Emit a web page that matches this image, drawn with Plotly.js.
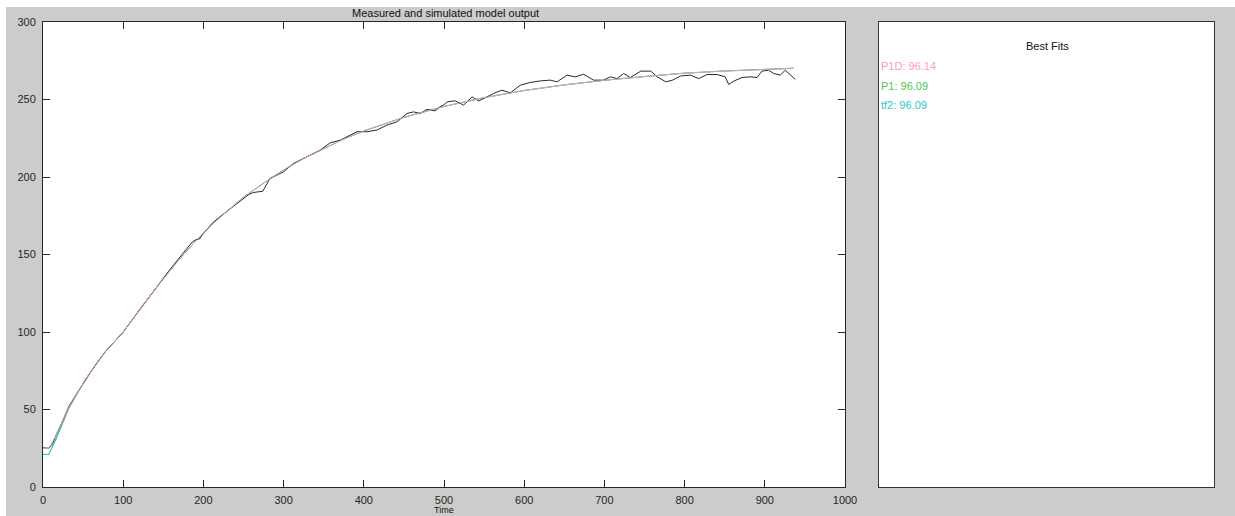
<!DOCTYPE html>
<html>
<head>
<meta charset="utf-8">
<script src="https://cdn.plot.ly/plotly-3.0.1.min.js"></script>
<style>html,body{margin:0;padding:0;background:#fff;}#chart{width:1235px;height:516px;}</style>
</head>
<body>
<div id="chart"></div>
<script>
// Measured output (black)
const measT = [0,4,7.5,12,15.7,24,32.4,43,53.2,65,78,89,98.9,110,123.8,135,144.6,157,169.6,180,186,190.3,195,200,211,221,231.9,240,248.5,256,262,268,274,283,300,312.5,329,345.8,358,370.7,383,391.5,404,416.5,429,441.4,453.9,462,470.4,478.8,489,495,499.5,504,514,524.4,535,543,551.5,561.8,572.3,582.7,595,607.5,620,632.6,641,653.4,663.8,674,686.5,699,707.4,715.7,724,732.4,745.4,757.9,766,776.6,785,795,807.4,817.5,828,840.5,850.7,855,861,871.6,882,890.3,896.5,904.7,911,919.3,925.5,931.8,938];
const measY = [25.3,25.2,25,28,32.8,42,52.1,61,69.3,78.5,87.5,94,99.3,107,116.5,124.5,131.5,139.5,147.6,154,158,159.5,160,163.5,170.2,174.5,178.8,182,185.2,188.5,190,190.3,190.8,199,203.4,208.8,213,217.4,222,223.8,227,229.2,229.2,230.3,233.5,235.6,241,242,241,243.6,242.7,245.3,246.4,248.5,249.1,246.4,251.7,249.1,251.1,253.9,256,254.3,259.2,261,262,262.5,261.4,265.7,264.6,266.3,262.5,262.5,264.6,263.5,266.8,264.2,268.3,268.3,264.6,261.4,262.5,265.2,265.7,263.5,266.1,266.1,264.6,259.7,261.8,264.2,264.6,264.2,268.3,268.9,266.8,265.7,268.9,265.7,263];

// Simulated: P1D (pink)
const p1dT = [0,7,15,32,53,78,100,124,145,170,190,211,232,250,275,300,325,350,375,400,425,450,475,500,550,600,650,700,750,800,850,900,936];
const p1dY = [25,25,32,51,69.5,87.5,100,117,131,147,158.5,169.5,179,187,196,204.5,212,218.5,224.5,229.7,234.3,238.5,242,245.5,251.2,255.8,259.4,262.4,264.8,267,268.3,269.4,270];

// Simulated: P1 (green) and tf2 (cyan)
const p1T = [0,7,15,32,53,78,100,124,145,170,190,211,232,250,275,300,325,350,375,400,425,450,475,500,550,600,650,700,750,800,850,900,936];
const p1Y = [21,21,29.5,50.5,69.5,87.5,100,117,131,147,158.5,169.5,179,187,196,204.5,212,218.5,224.5,229.7,234.3,238.5,242,245.5,251.2,255.8,259.4,262.4,264.8,267,268.4,269.5,270.2];
const tf2T = [0,7,15,32,53,78,100,124,145,170,190,211,232,250,275,300,325,350,375,400,425,450,475,500,550,600,650,700,750,800,850,900,936];
const tf2Y = [21,21,29.5,50.5,69.5,87.5,100,117,131,147,158.5,169.5,179,187,196,204.5,212,218.5,224.5,229.7,234.3,238.5,242,245.5,251.2,255.8,259.4,262.4,264.8,267,268.4,269.5,270.2];

const xTicks = [0,100,200,300,400,500,600,700,800,900,1000];
const yTicks = [0,50,100,150,200,250,300];
const fitNames = ['P1D: 96.14','P1: 96.09','tf2: 96.09'];

const PINK = '#ff99bf', GREEN = '#4cc64c', CYAN = '#1fc9cf';
const fitColors = [PINK, GREEN, CYAN];

// pixel -> paper helpers (plot area: x 43..1214, y 22..487)
const L = 43, R = 21, T = 22, B = 29, W = 1235, H = 516;
const PW = W - L - R, PH = H - T - B;
const px = v => (v - L) / PW;
const py = v => (H - B - v) / PH;

const font = {family: 'Liberation Sans, Arial, sans-serif', size: 11, color: '#262626'};

const traces = [
  {x: p1T, y: p1Y, type: 'scatter', mode: 'lines', line: {color: GREEN, width: 1}, xaxis: 'x', yaxis: 'y'},
  {x: tf2T, y: tf2Y, type: 'scatter', mode: 'lines', line: {color: CYAN, width: 1}, xaxis: 'x', yaxis: 'y'},
  {x: measT, y: measY, type: 'scatter', mode: 'lines', line: {color: '#2a2a2a', width: 1}, xaxis: 'x', yaxis: 'y'},
  {x: p1dT, y: p1dY, type: 'scatter', mode: 'lines', line: {color: PINK, width: 1}, xaxis: 'x', yaxis: 'y', opacity: 0.9}
];

const annotations = [
  {text: 'Measured and simulated model output', xref: 'paper', yref: 'paper', x: px(445), y: py(13), showarrow: false, xanchor: 'center', yanchor: 'middle', font: {family: font.family, size: 11, color: '#111'}},
  {text: 'Time', xref: 'paper', yref: 'paper', x: px(444), y: py(516), showarrow: false, xanchor: 'center', yanchor: 'bottom', borderpad: 0, font: {family: font.family, size: 9, color: '#111'}},
  {text: 'Best Fits', xref: 'paper', yref: 'paper', x: px(1047), y: py(46), showarrow: false, xanchor: 'center', yanchor: 'middle', font: {family: font.family, size: 11, color: '#111'}}
];
const fitY = [66, 86, 105];
fitNames.forEach((n, i) => annotations.push({
  text: n, xref: 'paper', yref: 'paper', x: px(879), y: py(fitY[i]), showarrow: false,
  xanchor: 'left', yanchor: 'middle', font: {family: font.family, size: 11, color: fitColors[i]}
}));

const layout = {
  width: W, height: H,
  margin: {l: L, r: R, t: T, b: B, pad: 0},
  paper_bgcolor: '#cccccc',
  plot_bgcolor: '#ffffff',
  showlegend: false,
  font: font,
  xaxis: {domain: [0, px(845)], range: [0, 1000], tickvals: xTicks, ticktext: xTicks.map(String),
    ticks: 'inside', ticklen: 7, tickcolor: '#262626', showline: true, linecolor: '#262626', linewidth: 1,
    mirror: 'ticks', showgrid: false, zeroline: false, ticklabelstandoff: 3, tickfont: font, anchor: 'y'},
  yaxis: {domain: [0, 1], range: [0, 300], tickvals: yTicks, ticktext: yTicks.map(String),
    ticks: 'inside', ticklen: 7, tickcolor: '#262626', showline: true, linecolor: '#262626', linewidth: 1,
    mirror: 'ticks', showgrid: false, zeroline: false, ticklabelstandoff: 4, tickfont: font, anchor: 'x'},
  xaxis2: {domain: [px(879), px(1214)], range: [0, 1], showticklabels: false, ticks: '', showline: true,
    linecolor: '#333', linewidth: 1, mirror: true, showgrid: false, zeroline: false, anchor: 'y2'},
  yaxis2: {domain: [0, 1], range: [0, 1], showticklabels: false, ticks: '', showline: true,
    linecolor: '#333', linewidth: 1, mirror: true, showgrid: false, zeroline: false, anchor: 'x2'},
  annotations: annotations,
  shapes: [
    {type: 'rect', xref: 'paper', yref: 'paper', x0: px(0), x1: px(6), y0: py(H), y1: py(0), fillcolor: '#ffffff', line: {width: 0}, layer: 'below'},
    {type: 'rect', xref: 'paper', yref: 'paper', x0: px(0), x1: px(W), y0: py(7), y1: py(0), fillcolor: '#ffffff', line: {width: 0}, layer: 'below'}
  ]
};

// empty trace to instantiate the right-hand panel axes
traces.push({x: [0], y: [0], type: 'scatter', mode: 'markers', marker: {opacity: 0}, xaxis: 'x2', yaxis: 'y2', hoverinfo: 'skip'});

Plotly.newPlot('chart', traces, layout, {staticPlot: true, displayModeBar: false});
</script>
</body>
</html>
